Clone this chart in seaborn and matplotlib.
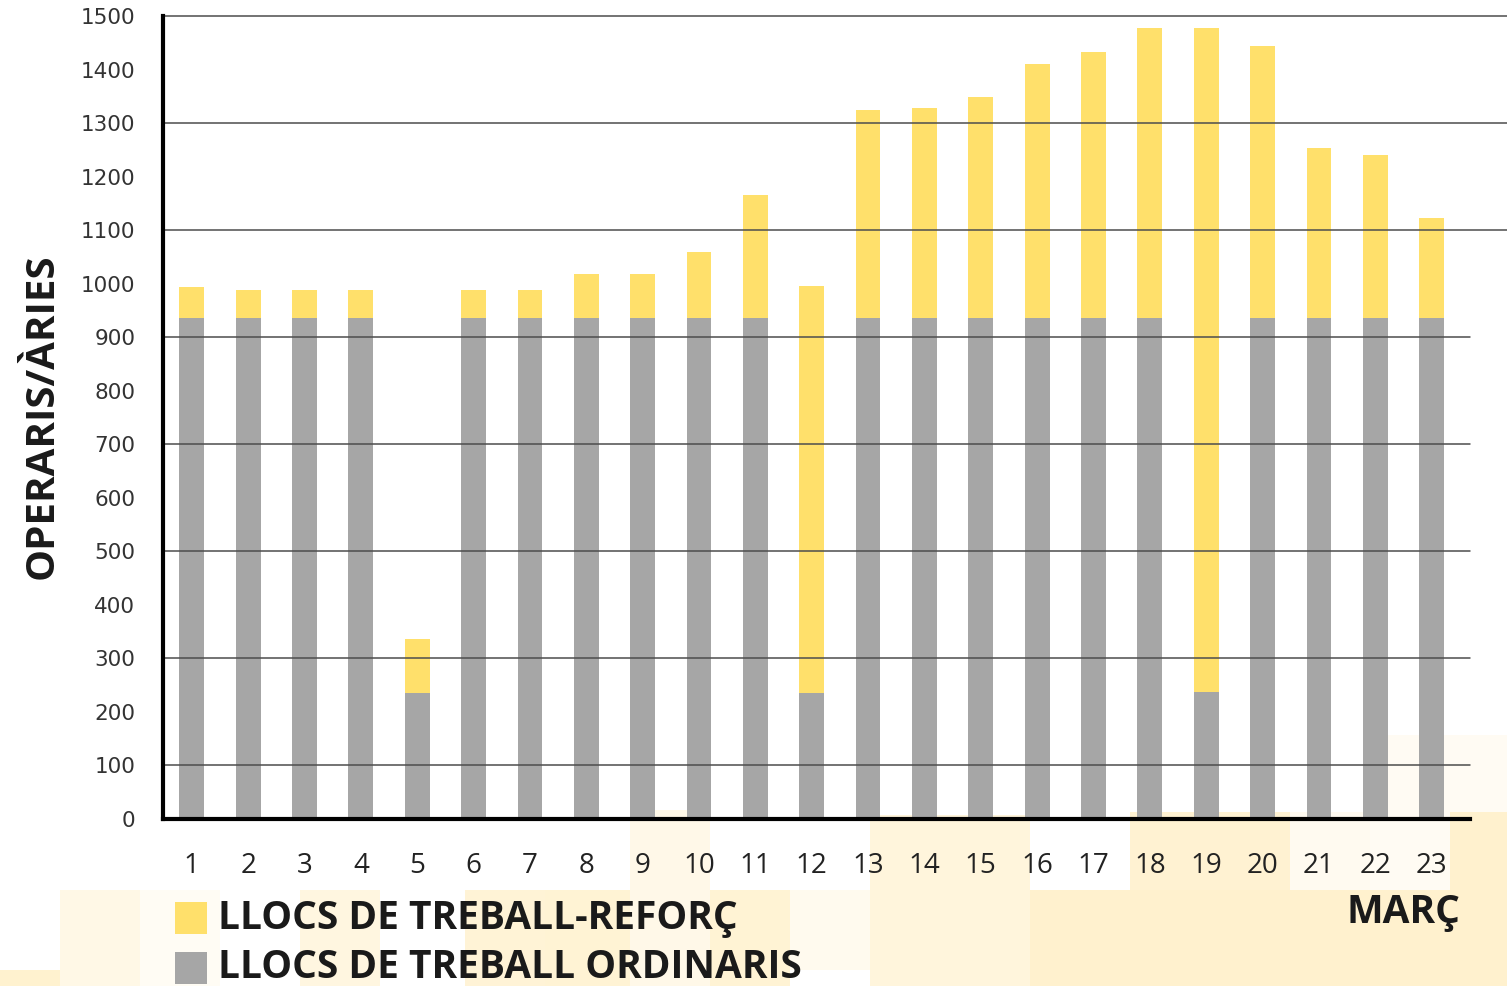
import numpy as np
import pandas as pd
import matplotlib.pyplot as plt
import matplotlib.patches as mpatches
import seaborn as sns

sns.set_style("white")
plt.rcParams['font.family'] = ['Open Sans', 'DejaVu Sans']

# Data (days of March)
days = [str(d) for d in range(1, 24)]
ordinaris = [935, 935, 935, 935, 235, 935, 935, 935, 935, 935, 935, 235,
             935, 935, 935, 935, 935, 935, 238, 935, 935, 935, 935]
total = [993, 989, 989, 989, 336, 989, 989, 1018, 1018, 1059, 1166, 996,
         1324, 1329, 1348, 1410, 1433, 1478, 1478, 1444, 1254, 1241, 1123]
y_ticks = list(range(0, 1600, 100))
grid_levels = list(range(100, 1600, 200))

df = pd.DataFrame({'dia': days, 'ordinaris': ordinaris, 'total': total})

yellow = '#FFE06B'
grey = '#A6A6A6'

fig = plt.figure(figsize=(15.07, 9.86), dpi=100)

# faint decorative blocks in the background (pixel boxes: x0, y0, x1, y1)
blocks = [
    (0, 970, 60, 986, '#FFF2CF'), (60, 890, 140, 986, '#FFF8E6'),
    (140, 890, 220, 986, '#FFFCF4'), (300, 890, 380, 986, '#FFF6E0'),
    (465, 890, 545, 986, '#FFF3D6'), (545, 890, 630, 986, '#FFF3D4'),
    (630, 810, 710, 986, '#FFF8E8'), (710, 890, 790, 986, '#FFF3D4'),
    (790, 890, 870, 970, '#FFFAEE'), (870, 815, 1030, 986, '#FFF5DC'),
    (1030, 890, 1507, 986, '#FFF1CE'), (1130, 812, 1290, 890, '#FFF2D2'),
    (1290, 812, 1370, 890, '#FFFAF0'), (1370, 735, 1450, 890, '#FFFBF3'),
    (1450, 735, 1507, 812, '#FFFBF3'), (1450, 812, 1507, 986, '#FFF1CE'),
]
W, H = 1507, 986
for x0, y0, x1, y1, c in blocks:
    fig.patches.append(mpatches.Rectangle((x0 / W, 1 - y1 / H), (x1 - x0) / W, (y1 - y0) / H,
                                          transform=fig.transFigure, color=c, zorder=-5, lw=0))

ax = fig.add_axes([163 / W, 1 - 819 / H, (1470 - 163) / W, (819 - 16) / H])
ax.set_zorder(2)
ax.patch.set_alpha(0)

sns.barplot(data=df, x='dia', y='total', color=yellow, width=0.44,
            saturation=1, linewidth=0, ax=ax, zorder=2)
sns.barplot(data=df, x='dia', y='ordinaris', color=grey, width=0.44,
            saturation=1, linewidth=0, ax=ax, zorder=3)

for g in grid_levels:
    ext = 1.03 if g >= 1100 else 1.0
    ax.plot([0, ext], [g, g], transform=ax.get_yaxis_transform(), color='#4d4d4d',
            lw=1.1, zorder=4, clip_on=False)

ax.set_ylim(0, 1500)
ax.set_xlim(-0.51, 22.68)
ax.set_yticks(y_ticks)
ax.set_yticklabels([str(t) for t in y_ticks], family='DejaVu Sans', fontsize=15.5,
                   color='#333333')
ax.tick_params(axis='y', length=0, pad=20)
ax.tick_params(axis='x', length=0, pad=24, labelsize=20, labelcolor='#222222')

for s in ['top', 'right']:
    ax.spines[s].set_visible(False)
for s in ['left', 'bottom']:
    ax.spines[s].set_color('black')
    ax.spines[s].set_linewidth(3)
    ax.spines[s].set_zorder(5)

ax.set_xlabel('')
ax.set_ylabel('')
fig.text(42 / W, 1 - 416 / H, 'OPERARIS/ÀRIES', rotation=90, ha='center', va='center',
         fontsize=29, fontweight='bold', color='#1a1a1a')

# legend drawn by hand
for i, (lab, c) in enumerate([('LLOCS DE TREBALL-REFORÇ', yellow),
                              ('LLOCS DE TREBALL ORDINARIS', grey)]):
    yc = 918 + i * 50
    fig.patches.append(mpatches.Rectangle((175 / W, 1 - (yc + 16) / H), 32 / W, 32 / H,
                                          transform=fig.transFigure, color=c, zorder=3, lw=0))
    fig.text(218 / W, 1 - yc / H, lab, ha='left', va='center', fontsize=28,
             fontweight='bold', color='#1a1a1a')

fig.text(1460 / W, 1 - 913 / H, 'MARÇ', ha='right', va='center', fontsize=28,
         fontweight='bold', color='#1a1a1a')

fig.savefig('out.png', dpi=100)
